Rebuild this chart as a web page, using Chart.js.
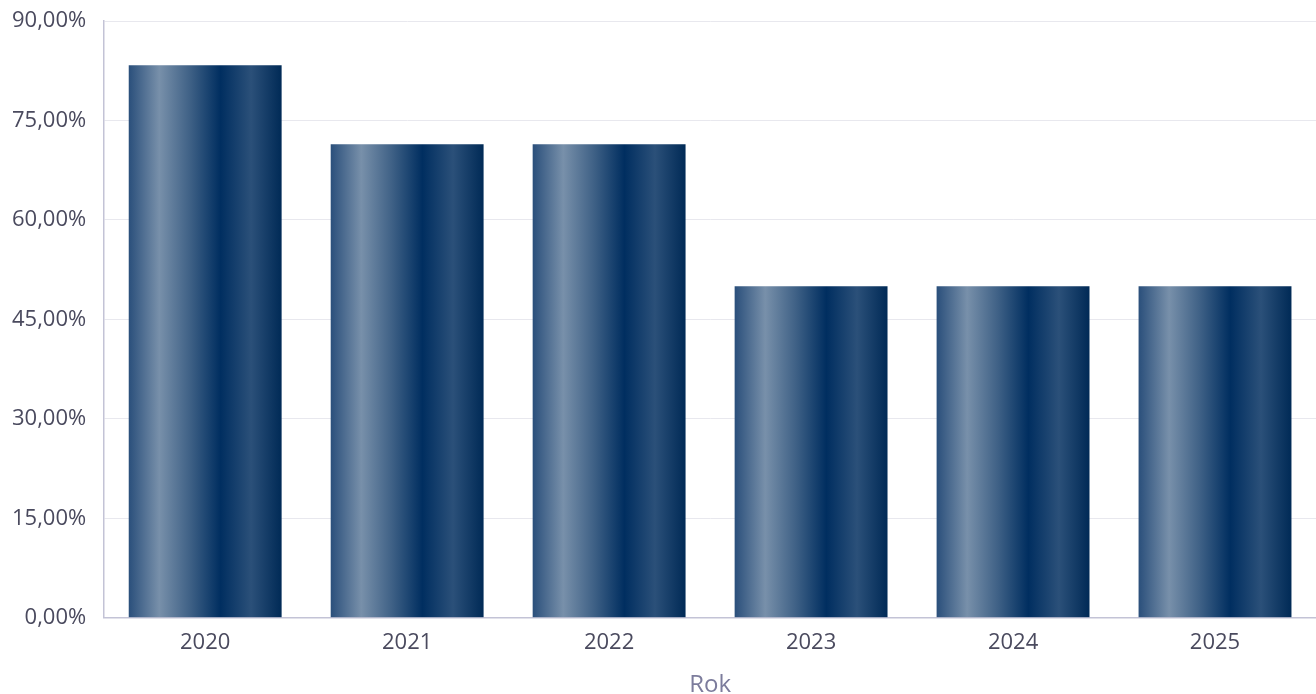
<!DOCTYPE html>
<html>
<head>
<meta charset="utf-8">
<script src="https://cdn.jsdelivr.net/npm/chart.js@4/dist/chart.umd.min.js"></script>
<style>
  html, body { margin: 0; padding: 0; background: #fff; }
  #chart { display: block; }
</style>
</head>
<body>
<canvas id="chart" width="1316" height="694"></canvas>
<script>
const years = ['2020', '2021', '2022', '2023', '2024', '2025'];
const shares = [83.33, 71.43, 71.43, 50, 50, 50];
const yTicks = [0, 15, 30, 45, 60, 75, 90];

const BAR_PCT = 0.757;

// horizontal gradient across each bar
function barGradient(ctx) {
  const chart = ctx.chart;
  const xScale = chart.scales.x;
  if (!xScale || ctx.dataIndex === undefined) return '#1d4270';
  const cx = xScale.getPixelForValue(ctx.dataIndex);
  const w = (xScale.width / years.length) * BAR_PCT;
  if (!isFinite(cx) || !isFinite(w) || w <= 0) return '#1d4270';
  const x0 = cx - w / 2;
  const g = chart.ctx.createLinearGradient(x0, 0, x0 + w, 0);
  g.addColorStop(0, '#2a4f7b');
  g.addColorStop(0.2, '#7890aa');
  g.addColorStop(0.4, '#3f6186');
  g.addColorStop(0.6, '#002e60');
  g.addColorStop(0.8, '#2b5079');
  g.addColorStop(1, '#002a56');
  return g;
}

new Chart(document.getElementById('chart'), {
  type: 'bar',
  data: {
    labels: years,
    datasets: [{
      data: shares,
      backgroundColor: barGradient,
      borderWidth: 0,
      barPercentage: BAR_PCT,
      categoryPercentage: 1
    }]
  },
  options: {
    responsive: false,
    animation: false,
    layout: { padding: { top: 0, right: 0, left: -6, bottom: -6 } },
    plugins: { legend: { display: false }, tooltip: { enabled: false } },
    scales: {
      x: {
        grid: { display: false },
        border: { color: '#c3c3d6', width: 1.5 },
        ticks: { color: '#4a4a5e', font: { family: 'Open Sans', size: 22 }, padding: 4 },
        title: { display: true, text: 'Rok', color: '#7c7c9c', font: { family: 'Open Sans', size: 24 }, padding: { top: 11, bottom: 0 } }
      },
      y: {
        min: 0,
        max: 90,
        afterBuildTicks: axis => { axis.ticks = yTicks.map(v => ({ value: v })); },
        afterFit: axis => { axis.paddingTop = 21; axis.paddingBottom = 0; },
        grid: { color: '#e8e8ee', drawTicks: false },
        border: { color: '#c3c3d6', width: 1.5 },
        ticks: {
          color: '#4a4a5e',
          font: { family: 'Open Sans', size: 22 },
          padding: 18,
          callback: v => v.toFixed(2).replace('.', ',') + '%'
        }
      }
    }
  }
});
</script>
</body>
</html>
